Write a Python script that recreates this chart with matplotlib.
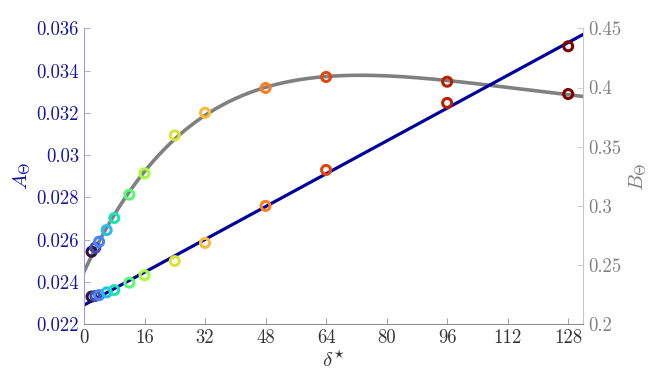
import matplotlib
matplotlib.use("Agg")
import matplotlib.pyplot as plt
import numpy as np
from matplotlib.ticker import FixedLocator, FormatStrFormatter

plt.rcParams["font.family"] = "serif"
plt.rcParams["font.serif"] = ["cmr10", "DejaVu Serif"]
plt.rcParams["mathtext.fontset"] = "cm"
plt.rcParams["axes.unicode_minus"] = False

# data
delta = [2, 3, 4, 6, 8, 12, 16, 24, 32, 48, 64, 96, 128]
A_theta = [0.02331, 0.02334, 0.02338, 0.02351, 0.02362, 0.02397, 0.02432,
           0.02499, 0.02585, 0.02760, 0.02930, 0.03247, 0.03515]
B_theta = [0.2613, 0.2647, 0.2698, 0.2796, 0.2898, 0.3095, 0.3275,
           0.3596, 0.3787, 0.3996, 0.4089, 0.4049, 0.3945]

x_ticks = [0, 16, 32, 48, 64, 80, 96, 112, 128]
a_ticks = [0.022, 0.024, 0.026, 0.028, 0.03, 0.032, 0.034, 0.036]
b_ticks = [0.2, 0.25, 0.3, 0.35, 0.4, 0.45]

blue = "#00009c"
blue_txt = "#1414a0"
grey = "#808080"


def fit_b(x, y):
    # least squares of y ~ a + b*x*exp(-x/c) + d*x, scanning c
    x = np.asarray(x, float)
    y = np.asarray(y, float)
    best = None
    for c in np.linspace(20, 300, 281):
        M = np.column_stack([np.ones_like(x), x * np.exp(-x / c), x])
        coef, res, _, _ = np.linalg.lstsq(M, y, rcond=None)
        err = np.sum((M @ coef - y) ** 2)
        if best is None or err < best[0]:
            best = (err, c, coef)
    _, c, coef = best
    return lambda t: coef[0] + coef[1] * t * np.exp(-t / c) + coef[2] * t


fig = plt.figure(figsize=(6.48, 3.77), dpi=100)
ax = fig.add_axes([0.1296, 0.1398, 0.7706, 0.7851])
ax2 = ax.twinx()
ax.set_zorder(ax2.get_zorder() + 1)
ax.patch.set_visible(False)

colors = plt.cm.turbo(np.linspace(0, 1, len(delta)))
xs = np.linspace(0, 132, 300)

pa = np.polyfit(delta, A_theta, 1)
fb = fit_b(delta, B_theta)

ax2.plot(xs, fb(xs), color=grey, lw=2.6, zorder=1)
ax2.scatter(delta, B_theta, s=42, facecolors="none", edgecolors=colors,
            linewidths=2.2, zorder=3)

ax.plot(xs, np.polyval(pa, xs), color=blue, lw=2.3, zorder=1)
ax.scatter(delta, A_theta, s=42, facecolors="none", edgecolors=colors,
           linewidths=2.2, zorder=3)

ax.set_xlim(0, 132)
ax.set_ylim(0.022, 0.036)
ax2.set_ylim(0.2, 0.45)

ax.xaxis.set_major_locator(FixedLocator(x_ticks))
ax.yaxis.set_major_locator(FixedLocator(a_ticks))
ax2.yaxis.set_major_locator(FixedLocator(b_ticks))
ax.yaxis.set_major_formatter(FormatStrFormatter("%g"))
ax2.yaxis.set_major_formatter(FormatStrFormatter("%g"))

for a in (ax, ax2):
    a.spines["top"].set_visible(False)
    a.tick_params(direction="in", length=4, labelsize=13.5, width=0.6)

ax.spines["right"].set_visible(False)
ax.spines["left"].set_color("#9c9ce0")
ax.spines["bottom"].set_color("#909090")
ax2.spines["left"].set_visible(False)
ax2.spines["bottom"].set_visible(False)
ax2.spines["right"].set_color("#c8c8c8")

ax.tick_params(axis="y", colors="#9c9ce0", labelcolor=blue_txt)
ax.tick_params(axis="x", colors="#909090", labelcolor="#333333")
ax2.tick_params(axis="y", colors="#c8c8c8", labelcolor=grey)

ax.set_xlabel(r"$\delta^{\star}$", fontsize=15, color="#333333", labelpad=2)
ax.set_ylabel(r"$A_\Theta$", fontsize=15, color=blue_txt)
ax2.set_ylabel(r"$B_\Theta$", fontsize=15, color=grey)
ax.yaxis.set_label_coords(-0.102, 0.5)
ax2.yaxis.set_label_coords(1.088, 0.5)

fig.savefig("out.png", dpi=100)
